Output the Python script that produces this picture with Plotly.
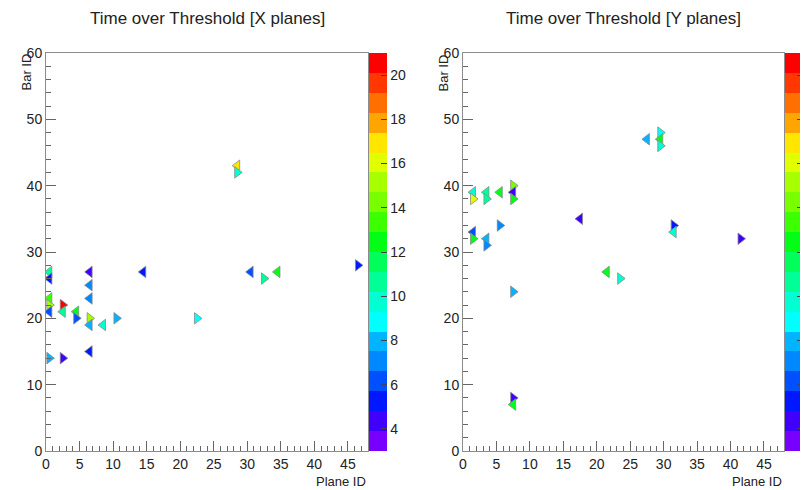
import plotly.graph_objects as go

# Time over Threshold per bar, X planes
x_plane = [0.5, 0.5, 0.5, 0.5, 0.5, 0.5, 2.5, 2.5, 2.5, 4.5, 4.5,
           6.5, 6.5, 6.5, 6.5, 6.5, 6.5, 8.5, 10.5, 14.5, 22.5,
           28.5, 28.5, 30.5, 32.5, 34.5, 46.5]
x_bar = [27, 26, 23, 22, 21, 14, 22, 21, 14, 21, 20,
         27, 25, 23, 20, 19, 15, 19, 20, 27, 20,
         43, 42, 27, 26, 27, 28]
x_tot = [11, 5, 13.5, 15, 6, 7.5, 20.5, 10.5, 4.5, 12.5, 6,
         4.5, 7, 7, 15, 8, 5.5, 10, 8, 5.5, 9,
         16.5, 9.5, 6.5, 10.8, 12.5, 5.5]
x_side = ["L", "L", "L", "R", "L", "R", "R", "L", "R", "L", "R",
          "L", "L", "L", "R", "L", "L", "L", "R", "L", "R",
          "L", "R", "L", "R", "L", "R"]

# Time over Threshold per bar, Y planes
y_plane = [1.5, 1.5, 1.5, 1.5, 3.5, 3.5, 3.5, 3.5, 5.5, 5.5,
           7.5, 7.5, 7.5, 7.5, 7.5, 7.5, 17.5, 21.5, 23.5,
           27.5, 29.5, 29.5, 29.5, 31.5, 31.5, 41.5]
y_bar = [39, 38, 33, 32, 39, 38, 32, 31, 39, 34,
         40, 39, 38, 24, 8, 7, 35, 27, 26,
         47, 48, 47, 46, 34, 33, 32]
y_tot = [10, 16, 6, 12.5, 10.5, 11, 7.5, 7, 12.5, 7,
         14.5, 4.5, 12.5, 8, 4.5, 12.5, 4.5, 12.5, 10,
         7.5, 9, 12.5, 10, 5.5, 10, 4.5]
y_side = ["L", "R", "L", "R", "L", "R", "L", "R", "L", "R",
          "R", "L", "R", "R", "R", "L", "L", "L", "R",
          "L", "R", "L", "R", "R", "L", "R"]

# 20-level palette, bottom to top
palette = ["#7800ff", "#4000ff", "#0018ff", "#0050ff", "#0088ff",
           "#00b4ff", "#00ffff", "#00ffd2", "#00ff96", "#00ff5a",
           "#00ff14", "#3cff00", "#78ff00", "#a8ff00", "#e0ff00",
           "#ffe600", "#ffa500", "#ff7000", "#ff3800", "#ff0000"]
zmin, zmax = 3, 21
cbar_ticks = [4, 6, 8, 10, 12, 14, 16, 18, 20]

scale = []
for i, c in enumerate(palette):
    scale.append([i / len(palette), c])
    scale.append([(i + 1) / len(palette), c])

font = "Liberation Sans, Arial, Helvetica, sans-serif"
# the page body has an 8px margin, so the figure is 8px smaller than the window
W, H = 800, 482
top, bottom = 45, 443
frames = [(38, 360), (455, 776)]


def tot_trace(px, py, val, side, idx):
    x0, x1 = frames[idx]
    return go.Scatter(
        x=px, y=py, mode="markers",
        xaxis="x" if idx == 0 else "x2",
        yaxis="y" if idx == 0 else "y2",
        marker=dict(
            symbol=["triangle-left" if s == "L" else "triangle-right" for s in side],
            size=10, color=val, cmin=zmin, cmax=zmax, colorscale=scale,
            line=dict(color="#8a8a8a", width=0.8),
            colorbar=dict(
                x=(x1 + 1) / W, xanchor="left", xpad=0,
                y=1 - (top + bottom) / 2 / H, yanchor="middle", ypad=0,
                len=(bottom - top) / H, thickness=18, outlinewidth=0,
                tickvals=cbar_ticks, ticks="inside", ticklen=6,
                tickcolor="#444", tickfont=dict(size=14, color="#222"),
            ),
        ),
        showlegend=False, hoverinfo="skip",
    )


fig = go.Figure()
fig.add_trace(tot_trace(x_plane, x_bar, x_tot, x_side, 0))
fig.add_trace(tot_trace(y_plane, y_bar, y_tot, y_side, 1))

ax_common = dict(showline=True, linecolor="#8c8c8c", linewidth=1, mirror=True,
                 showgrid=False, zeroline=False, ticks="inside", tickcolor="#666",
                 automargin=False, tickfont=dict(size=14, color="#222"))
xax = dict(ax_common, range=[0, 48], tick0=0, dtick=5, ticklen=10,
           minor=dict(dtick=1, ticks="inside", ticklen=5, tickcolor="#666"))
yax = dict(ax_common, range=[0, 60], tick0=0, dtick=10, ticklen=10,
           minor=dict(dtick=2, ticks="inside", ticklen=5, tickcolor="#666"))
ydom = [1 - bottom / H, 1 - top / H]

fig.update_layout(
    width=W, height=H,
    margin=dict(l=0, r=0, t=0, b=0, autoexpand=False),
    paper_bgcolor="white", plot_bgcolor="white",
    font=dict(family=font, color="#222"),
    xaxis=dict(xax, domain=[frames[0][0] / W, frames[0][1] / W], anchor="y"),
    yaxis=dict(yax, domain=ydom, anchor="x"),
    xaxis2=dict(xax, domain=[frames[1][0] / W, frames[1][1] / W], anchor="y2"),
    yaxis2=dict(yax, domain=ydom, anchor="x2"),
)

titles = ["Time over Threshold [X planes]", "Time over Threshold [Y planes]"]
for (x0, x1), title in zip(frames, titles):
    fig.add_annotation(text=title, xref="paper", yref="paper",
                       x=(x0 + x1) / 2 / W, y=1 - 10 / H, showarrow=False,
                       xanchor="center", yanchor="middle", font=dict(size=17))
    fig.add_annotation(text="Plane ID", xref="paper", yref="paper",
                       x=x1 / W, y=1 - 473 / H, showarrow=False,
                       xanchor="right", yanchor="middle", font=dict(size=13))
    fig.add_annotation(text="Bar ID", xref="paper", yref="paper", textangle=-90,
                       x=(x0 - 20) / W, y=1 - 44 / H, showarrow=False,
                       xanchor="center", yanchor="top", font=dict(size=13))

fig.write_html("out.html")
